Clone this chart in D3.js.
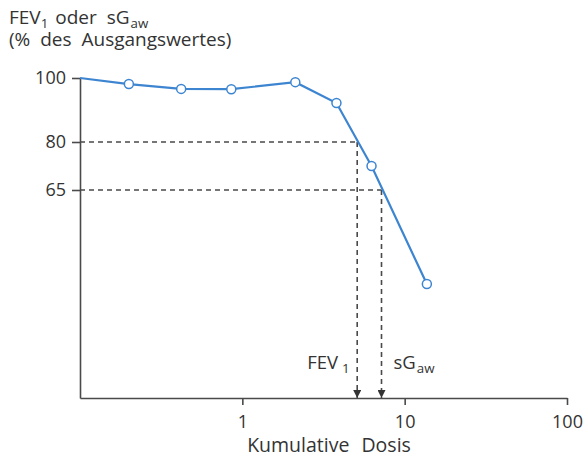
<!DOCTYPE html>
<html>
<head>
<meta charset="utf-8">
<script src="https://cdn.jsdelivr.net/npm/d3@7"></script>
<style>
  body { margin: 0; background: #fff; }
  text { font-family: "Open Sans", sans-serif; fill: #333; }
  .axis path, .axis line { stroke: #4a4a4a; stroke-width: 1.6; }
  .axis text { font-size: 18px; fill: #333; }
  .curve { fill: none; stroke: #3d85d1; stroke-width: 2.2; }
  .dot { fill: #fff; stroke: #3d85d1; stroke-width: 1.5; }
  .guide { fill: none; stroke: #4a4a4a; stroke-width: 1.6; stroke-dasharray: 5,4; }
</style>
</head>
<body>
<script>
// dose (log) vs. FEV1 / sGaw in % of baseline
const doses = [0.1, 0.2, 0.42, 0.855, 2.12, 3.8, 6.25, 13.7];
const percents = [100, 98.1, 96.6, 96.5, 98.7, 92.2, 72.5, 35.6];
const xTicks = [1, 10, 100];
const yTicks = [65, 80, 100];
// threshold levels and the dose where the curve crosses them
const guideLevels = [80, 65];
const guideDoses = [5.1, 7.2];
const guideLabels = [["FEV", "1"], ["sG", "aw"]];

const WIDTH = 585;
const HEIGHT = 463;
const LEFT = 80;
const RIGHT = 567;
const TOP = 78;
const BOTTOM = 398;

var xScale = d3.scaleLog()
    .domain([0.1, 100])
    .range([LEFT, RIGHT]);

var yScale = d3.scaleLinear()
    .domain([0, 100])
    .range([BOTTOM, TOP]);

var points = doses.map(function(d, i) { return {x: d, y: percents[i]}; });

var onload = function() {
    var svg = d3.select('body').append('svg')
        .attr('width', WIDTH)
        .attr('height', HEIGHT);

    svg.append('defs').append('marker')
        .attr('id', 'arrow')
        .attr('viewBox', '0 0 10 10')
        .attr('refX', 10).attr('refY', 5)
        .attr('markerWidth', 9).attr('markerHeight', 8)
        .attr('markerUnits', 'userSpaceOnUse')
        .attr('orient', 'auto')
        .append('path')
        .attr('d', 'M0,0L10,5L0,10Z')
        .attr('fill', '#333');

    svg.append('g')
        .attr('class', 'axis')
        .attr('transform', 'translate(0,' + BOTTOM + ')')
        .call(d3.axisBottom(xScale).tickValues(xTicks).tickFormat(d3.format('d'))
              .tickSize(7).tickSizeOuter(0).tickPadding(10));

    svg.append('g')
        .attr('class', 'axis')
        .attr('transform', 'translate(' + LEFT + ',0)')
        .call(d3.axisLeft(yScale).tickValues(yTicks).tickSize(8).tickSizeOuter(0).tickPadding(6));

    // dashed guides with arrows down to the dose axis
    guideLevels.forEach(function(lv, i) {
        var gx = xScale(guideDoses[i]);
        svg.append('path')
            .attr('class', 'guide')
            .attr('d', 'M' + LEFT + ',' + yScale(lv) + 'H' + gx);
        svg.append('path')
            .attr('class', 'guide')
            .attr('d', 'M' + gx + ',' + yScale(lv) + 'V' + yScale(0))
            .attr('marker-end', 'url(#arrow)');
    });

    var lbl0 = svg.append('text')
        .attr('x', xScale(guideDoses[0]) - 50)
        .attr('y', 369)
        .attr('font-size', 18.5);
    lbl0.append('tspan').text(guideLabels[0][0]);
    lbl0.append('tspan').attr('dx', 4).attr('dy', 4).attr('font-size', '0.72em').text(guideLabels[0][1]);

    var lbl1 = svg.append('text')
        .attr('x', xScale(guideDoses[1]) + 12)
        .attr('y', 369)
        .attr('font-size', 18.5);
    lbl1.append('tspan').text(guideLabels[1][0]);
    lbl1.append('tspan').attr('dx', 1).attr('dy', 4).attr('font-size', '0.72em').text(guideLabels[1][1]);

    var line = d3.line()
        .x(function(d) { return xScale(d.x); })
        .y(function(d) { return yScale(d.y); });

    svg.append('path')
        .attr('class', 'curve')
        .attr('d', line(points));

    svg.selectAll('.dot').data(points.slice(1))
        .enter()
        .append('circle')
        .attr('class', 'dot')
        .attr('cx', function(d) { return xScale(d.x); })
        .attr('cy', function(d) { return yScale(d.y); })
        .attr('r', 4.5);

    // titles
    var t1 = svg.append('text').attr('x', 9).attr('y', 24).attr('font-size', 19);
    t1.append('tspan').text('FEV');
    t1.append('tspan').attr('dy', 4).attr('font-size', '0.7em').text('1');
    t1.append('tspan').attr('dy', -4).attr('dx', 7).attr('word-spacing', 5).text('oder sG');
    t1.append('tspan').attr('dy', 4).attr('dx', 1).attr('font-size', '0.7em').text('aw');

    svg.append('text').attr('x', 9).attr('y', 46).attr('font-size', 19)
        .attr('word-spacing', 5)
        .text('(% des Ausgangswertes)');

    svg.append('text')
        .attr('x', 329).attr('y', 452)
        .attr('text-anchor', 'middle')
        .attr('font-size', 19.5)
        .attr('word-spacing', 7)
        .text('Kumulative Dosis');
};

window.onload = onload;
</script>
</body>
</html>
